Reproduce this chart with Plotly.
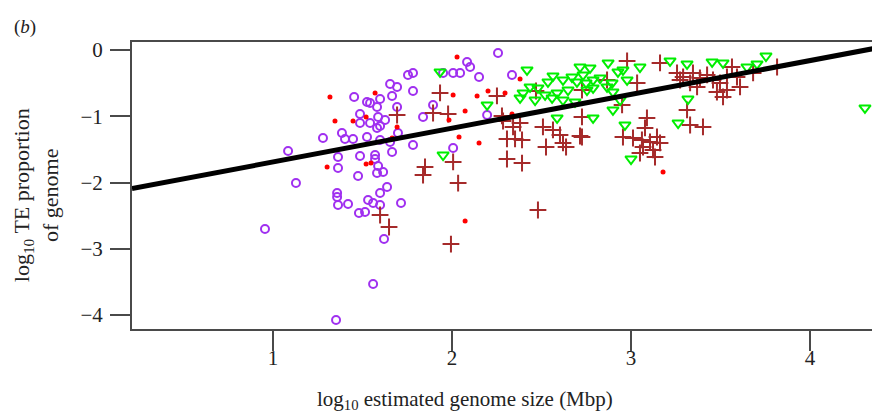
import numpy as np
import plotly.graph_objects as go

# ---- data (log10 genome size, log10 TE proportion) ----
purple_x = [2.257, 2.084, 2.101, 2.006, 2.045, 1.950, 2.151, 2.335, 1.782, 1.754,
            1.654, 1.693, 1.782, 1.453, 1.525, 1.542, 1.598, 1.665, 1.693, 1.581,
            1.486, 1.587, 1.626, 1.542, 1.486, 1.598, 1.581, 1.698, 1.838, 1.894,
            2.196, 1.385, 1.402, 1.447, 1.525, 1.279, 1.598, 1.654, 1.782, 1.084,
            1.363, 1.486, 1.570, 1.665, 1.570, 1.363, 1.587, 1.475, 1.581, 1.615,
            1.128, 1.637, 1.598, 1.358, 1.358, 1.363, 1.419, 1.531, 1.559, 1.598,
            1.715, 1.480, 1.514, 0.955, 1.620, 1.559, 1.352, 2.006]
purple_y = [-0.045, -0.181, -0.257, -0.347, -0.347, -0.347, -0.408, -0.377, -0.347, -0.377,
            -0.513, -0.558, -0.619, -0.709, -0.785, -0.800, -0.740, -0.694, -0.860, -0.860,
            -0.966, -1.011, -1.057, -1.102, -1.102, -1.147, -1.177, -1.253, -1.011, -0.830,
            -0.981, -1.253, -1.343, -1.343, -1.313, -1.328, -1.358, -1.389, -1.434, -1.525,
            -1.615, -1.600, -1.585, -1.540, -1.645, -1.781, -1.751, -1.902, -1.857, -1.842,
            -2.008, -2.068, -2.158, -2.158, -2.219, -2.340, -2.325, -2.264, -2.309, -2.340,
            -2.309, -2.460, -2.445, -2.702, -2.853, -3.532, -4.075, -1.479]

red_x = [1.318, 1.570, 1.346, 1.447, 1.520, 1.693, 1.665, 1.302, 1.520, 1.547,
         2.028, 1.983, 2.073, 2.006, 2.140, 2.201, 2.296, 2.380, 2.039, 2.151,
         2.073, 3.179, 2.335]
red_y = [-0.709, -0.649, -1.072, -1.072, -1.011, -1.162, -1.328, -1.766, -1.721, -1.706,
         -0.106, -1.057, -0.921, -0.679, -0.694, -0.619, -0.649, -0.438, -1.313, -1.403,
         -2.581, -1.841, -0.966]

brown_x = [1.693, 1.849, 1.838, 2.006, 2.034, 1.648, 1.598, 1.994, 1.933, 1.894,
           1.978, 2.251, 2.469, 2.726, 2.279, 2.285, 2.380, 2.341, 2.307, 2.352,
           2.391, 2.508, 2.564, 2.603, 2.525, 2.620, 2.637, 2.715, 2.726, 2.307,
           2.391, 2.480, 2.726, 2.866, 2.978, 3.162, 3.034, 2.950, 3.089, 3.078,
           2.955, 3.011, 3.061, 3.106, 3.145, 3.162, 3.067, 3.123, 3.050, 3.134,
           3.257, 3.291, 3.346, 3.385, 3.425, 3.274, 3.330, 3.369, 3.458, 3.497,
           3.536, 3.564, 3.480, 3.514, 3.536, 3.313, 3.330, 3.402, 3.609, 3.682,
           3.816, 3.592]
brown_y = [-0.981, -1.766, -1.887, -1.690, -2.008, -2.671, -2.490, -2.928, -0.649, -0.951,
           -0.966, -0.694, -0.619, -0.604, -0.996, -1.072, -1.102, -1.162, -1.343, -1.343,
           -1.358, -1.162, -1.207, -1.283, -1.464, -1.403, -1.464, -1.298, -1.011, -1.645,
           -1.706, -2.415, -1.313, -0.453, -0.166, -0.196, -0.498, -0.830, -1.026, -1.177,
           -1.313, -1.328, -1.358, -1.389, -1.313, -1.403, -1.464, -1.509, -1.555, -1.615,
           -0.347, -0.408, -0.347, -0.423, -0.377, -0.453, -0.498, -0.558, -0.453, -0.498,
           -0.408, -0.257, -0.634, -0.709, -0.604, -0.905, -1.132, -1.162, -0.558, -0.347,
           -0.257, -0.408]

green_x = [1.933, 2.196, 1.950, 2.419, 2.397, 2.380, 2.436, 2.480, 2.564, 2.620,
           2.670, 2.698, 2.715, 2.771, 2.788, 2.520, 2.559, 2.587, 2.620, 2.648,
           2.687, 2.754, 2.788, 2.587, 2.788, 2.732, 2.749, 2.872, 2.927, 2.955,
           2.978, 3.050, 2.894, 2.866, 2.899, 2.939, 2.899, 3.218, 3.313, 3.453,
           3.514, 3.318, 3.263, 2.966, 3.000, 3.648, 3.704, 3.754, 4.307, 2.536,
           2.827, 2.464]
green_y = [-0.332, -0.830, -1.585, -0.302, -0.649, -0.724, -0.558, -0.573, -0.392, -0.453,
           -0.408, -0.483, -0.257, -0.272, -0.453, -0.679, -0.724, -0.649, -0.755, -0.604,
           -0.785, -0.604, -0.573, -1.026, -1.026, -0.377, -0.498, -0.196, -0.332, -0.302,
           -0.453, -0.257, -0.498, -0.558, -0.634, -0.755, -0.905, -0.166, -0.211, -0.181,
           -0.196, -0.740, -1.102, -1.132, -1.645, -0.257, -0.211, -0.091, -0.875, -0.483,
           -0.423, -0.755]

fit_intercept = -2.20
fit_slope = 0.51

x_range = [0.212, 4.391]
y_range = [-4.21, 0.12]
x_ticks = [1, 2, 3, 4]
y_ticks = [0, -1, -2, -3, -4]

SERIF = "Liberation Serif, Times New Roman, serif"
AXIS_COL = "#4a4a4a"

fig = go.Figure()
fig.add_trace(go.Scatter(x=purple_x, y=purple_y, mode="markers",
                         marker=dict(symbol="circle-open", size=8, color="#A030F0",
                                     line=dict(width=2, color="#A030F0"))))
fig.add_trace(go.Scatter(x=brown_x, y=brown_y, mode="markers",
                         marker=dict(symbol="cross-thin", size=12, color="#A52A2A",
                                     line=dict(width=2, color="#A52A2A"))))
fig.add_trace(go.Scatter(x=green_x, y=green_y, mode="markers",
                         marker=dict(symbol="triangle-down-open", size=10, color="#00EE00",
                                     line=dict(width=2, color="#00EE00"))))
fig.add_trace(go.Scatter(x=red_x, y=red_y, mode="markers",
                         marker=dict(symbol="circle", size=5, color="#FF0000", line=dict(width=0))))

line_x = np.array(x_range)
line_y = fit_intercept + fit_slope * line_x
fig.add_trace(go.Scatter(x=line_x, y=line_y, mode="lines",
                         line=dict(color="black", width=5)))

# the page body keeps its default 8px margin, so the figure is sized to fit
fig.update_layout(
    width=872, height=407,
    margin=dict(l=124, r=0, t=34, b=86),
    paper_bgcolor="white", plot_bgcolor="white",
    showlegend=False,
    font=dict(family=SERIF, size=21, color="#222"),
    xaxis=dict(range=x_range, tickvals=x_ticks, ticks="outside", ticklen=20, tickwidth=2,
               tickcolor=AXIS_COL, showline=True, linecolor=AXIS_COL, linewidth=2,
               mirror=True, showgrid=False, zeroline=False, ticklabelstandoff=-11,
               tickfont=dict(family=SERIF, size=21, color="#222")),
    yaxis=dict(range=y_range, tickvals=y_ticks, ticks="outside", ticklen=20, tickwidth=2,
               tickcolor=AXIS_COL, showline=True, linecolor=AXIS_COL, linewidth=2,
               mirror=False, showgrid=False, zeroline=False, ticklabelstandoff=3,
               tickfont=dict(family=SERIF, size=21, color="#222")),
    annotations=[
        dict(text="log<sub>10</sub> estimated genome size (Mbp)", xref="paper", yref="paper",
             x=0.445, y=-0.248, xanchor="center", yanchor="middle", showarrow=False,
             font=dict(family=SERIF, size=21, color="#222")),
        dict(text="log<sub>10</sub> TE proportion<br>of genome", xref="paper", yref="paper",
             x=-0.128, y=0.467, xanchor="center", yanchor="middle", textangle=-90,
             showarrow=False, font=dict(family=SERIF, size=22, color="#222")),
        dict(text="(<i>b</i>)", xref="paper", yref="paper", x=-0.143, y=1.052,
             xanchor="center", yanchor="middle", showarrow=False,
             font=dict(family=SERIF, size=19, color="#222")),
    ],
)

fig.write_html("out.html")
